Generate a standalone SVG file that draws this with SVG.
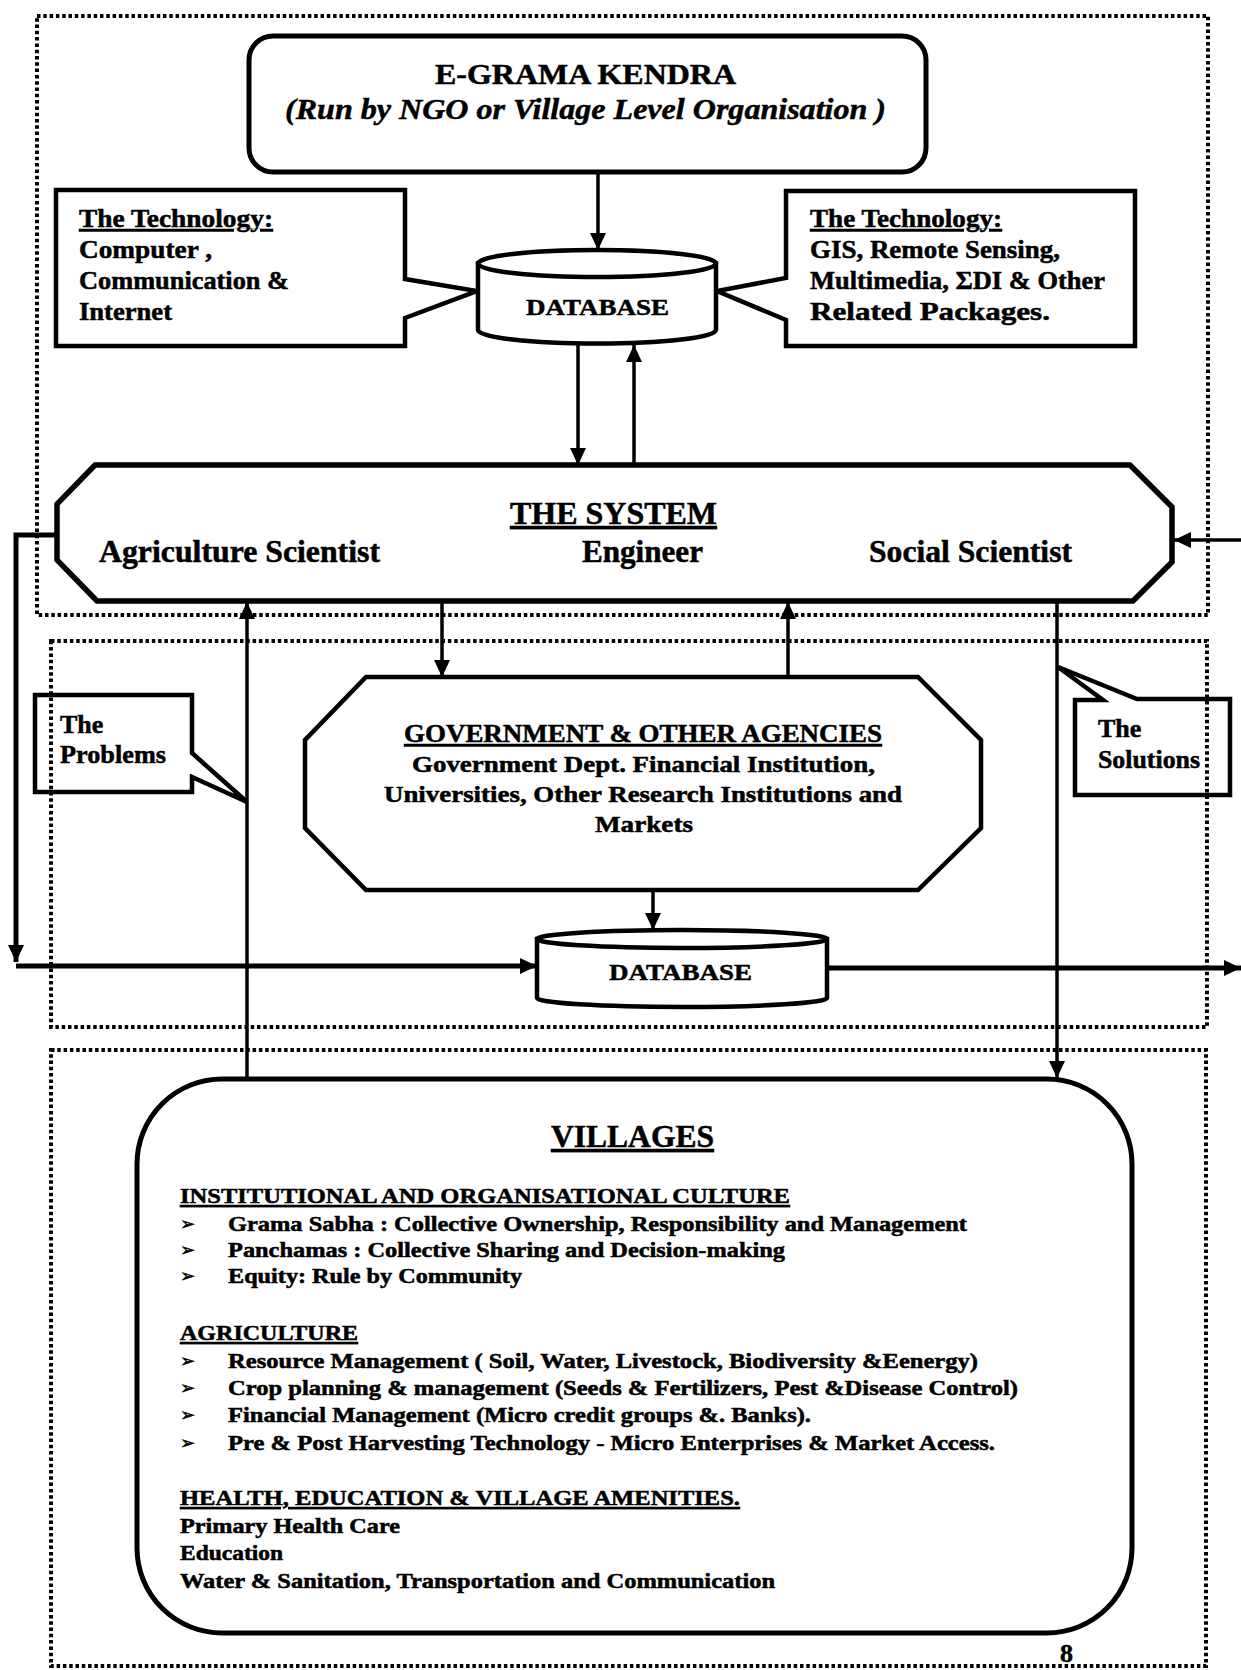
<svg xmlns="http://www.w3.org/2000/svg" width="1241" height="1670" viewBox="0 0 1241 1670">
<defs>
<style>
.bx{fill:#fff;stroke:#000;stroke-width:4.5;stroke-linejoin:miter}
.frame{fill:none;stroke:#000;stroke-width:4;stroke-dasharray:3.5 2.8}
.ln{fill:none;stroke:#000;stroke-width:3.5}
.thick{stroke-width:5}
text{font-family:"Liberation Serif","Times New Roman",serif;font-weight:bold;fill:#000;stroke:#000;stroke-width:0.5}
.it{font-style:italic}
.u{text-decoration:underline}
.bul{font-family:"DejaVu Sans",sans-serif;font-weight:normal;font-size:18px}
.f31{font-size:31px}
.f30{font-size:30px}
.f26{font-size:26px}
.f25{font-size:25px}
.f24{font-size:24px}
.f23{font-size:23px}
.f21{font-size:21px}
.f20{font-size:20px}
</style>
<marker id="ah" markerUnits="userSpaceOnUse" markerWidth="18" markerHeight="16" refX="17" refY="8" orient="auto">
<path d="M0,0 L17,8 L0,16 Z" fill="#000"/>
</marker>
</defs>
<rect width="1241" height="1670" fill="#fff"/>

<g id="egrama">
<rect class="bx" style="stroke-width:5" x="249" y="36" width="677" height="136" rx="24"/>
<text class="f30" x="435" y="84" textLength="301" lengthAdjust="spacingAndGlyphs">E-GRAMA KENDRA</text>
<text class="f30 it" x="285" y="119" textLength="601" lengthAdjust="spacingAndGlyphs">(Run by NGO or Village Level Organisation )</text>
</g>

<g id="tech-left">
<path class="bx" d="M56,190 H405 V279 L477,291 L405,318 V346 H56 Z"/>
<text class="f25 u" x="79" y="227" textLength="194" lengthAdjust="spacingAndGlyphs">The Technology:</text>
<text class="f25" x="79" y="258" textLength="133" lengthAdjust="spacingAndGlyphs">Computer ,</text>
<text class="f25" x="79" y="289" textLength="210" lengthAdjust="spacingAndGlyphs">Communication &amp;</text>
<text class="f25" x="79" y="320" textLength="93" lengthAdjust="spacingAndGlyphs">Internet</text>
</g>

<g id="tech-right">
<path class="bx" d="M786,191 H1135 V346 H786 V320 L717,291 L786,278 Z"/>
<text class="f25 u" x="810" y="227" textLength="192" lengthAdjust="spacingAndGlyphs">The Technology:</text>
<text class="f25" x="810" y="258" textLength="250" lengthAdjust="spacingAndGlyphs">GIS, Remote Sensing,</text>
<text class="f25" x="810" y="289" textLength="295" lengthAdjust="spacingAndGlyphs">Multimedia, ΣDI &amp; Other</text>
<text class="f25" x="810" y="320" textLength="240" lengthAdjust="spacingAndGlyphs">Related Packages.</text>
</g>

<g id="database-top">
<path class="bx" d="M478,263.5 V330 A119,13.5 0 0 0 716,330 V263.5 Z"/>
<ellipse class="bx" cx="597" cy="263.5" rx="119" ry="13.5"/>
<text class="f24" x="526" y="315" textLength="143" lengthAdjust="spacingAndGlyphs">DATABASE</text>
</g>

<g id="system">
<polygon class="bx" style="stroke-width:5.5" points="95,465 1130,465 1172,507 1172,562 1133,601 97,601 57,560 57,504"/>
<text class="f31 u" x="510" y="524" textLength="207" lengthAdjust="spacingAndGlyphs">THE SYSTEM</text>
<text class="f31" x="99" y="562" textLength="281" lengthAdjust="spacingAndGlyphs">Agriculture Scientist</text>
<text class="f31" x="582" y="562" textLength="121" lengthAdjust="spacingAndGlyphs">Engineer</text>
<text class="f31" x="869" y="562" textLength="203" lengthAdjust="spacingAndGlyphs">Social Scientist</text>
</g>

<g id="government">
<polygon class="bx" points="366,677 918,677 981,740 981,828 918,890 366,890 305,828 305,740"/>
<text class="f25 u" x="404" y="742" textLength="478" lengthAdjust="spacingAndGlyphs">GOVERNMENT &amp; OTHER AGENCIES</text>
<text class="f23" x="412" y="772" textLength="463" lengthAdjust="spacingAndGlyphs">Government Dept. Financial Institution,</text>
<text class="f23" x="384" y="802" textLength="518" lengthAdjust="spacingAndGlyphs">Universities, Other Research Institutions and</text>
<text class="f23" x="595" y="832" textLength="98" lengthAdjust="spacingAndGlyphs">Markets</text>
</g>

<g id="database-bottom">
<path class="bx" d="M537,939 V998 A145,9 0 0 0 827,998 V939 Z"/>
<ellipse class="bx" cx="682" cy="939" rx="145" ry="9"/>
<text class="f24" x="609" y="980" textLength="143" lengthAdjust="spacingAndGlyphs">DATABASE</text>
</g>

<g id="problems">
<path class="bx" d="M35,695 H192 V753 L247,802 L192,777 V792 H35 Z"/>
<text class="f26" x="60" y="733">The</text>
<text class="f26" x="60" y="763" textLength="106" lengthAdjust="spacingAndGlyphs">Problems</text>
</g>

<g id="solutions">
<path class="bx" d="M1075,700 H1103 L1058,667 L1137,699 H1230 V795 H1075 Z"/>
<text class="f26" x="1098" y="737">The</text>
<text class="f26" x="1098" y="768" textLength="102" lengthAdjust="spacingAndGlyphs">Solutions</text>
</g>

<g id="villages">
<rect class="bx" style="stroke-width:5" x="137" y="1079" width="995" height="554" rx="85"/>
<text class="f31 u" x="551" y="1147" textLength="163" lengthAdjust="spacingAndGlyphs">VILLAGES</text>
<text class="f21 u" x="180" y="1203" textLength="610" lengthAdjust="spacingAndGlyphs">INSTITUTIONAL AND ORGANISATIONAL CULTURE</text>
<text class="bul" x="180" y="1230">➢</text>
<text class="f20" x="228" y="1231" textLength="739" lengthAdjust="spacingAndGlyphs">Grama Sabha : Collective Ownership, Responsibility and Management</text>
<text class="bul" x="180" y="1256">➢</text>
<text class="f20" x="228" y="1257" textLength="557" lengthAdjust="spacingAndGlyphs">Panchamas : Collective Sharing and Decision-making</text>
<text class="bul" x="180" y="1282">➢</text>
<text class="f20" x="228" y="1283" textLength="294" lengthAdjust="spacingAndGlyphs">Equity: Rule by Community</text>
<text class="f21 u" x="180" y="1340" textLength="178" lengthAdjust="spacingAndGlyphs">AGRICULTURE</text>
<text class="bul" x="180" y="1367">➢</text>
<text class="f20" x="228" y="1368" textLength="750" lengthAdjust="spacingAndGlyphs">Resource Management ( Soil, Water, Livestock, Biodiversity &amp;Eenergy)</text>
<text class="bul" x="180" y="1394">➢</text>
<text class="f20" x="228" y="1395" textLength="790" lengthAdjust="spacingAndGlyphs">Crop planning &amp; management (Seeds &amp; Fertilizers, Pest &amp;Disease Control)</text>
<text class="bul" x="180" y="1421">➢</text>
<text class="f20" x="228" y="1422" textLength="583" lengthAdjust="spacingAndGlyphs">Financial Management (Micro credit groups &amp;. Banks).</text>
<text class="bul" x="180" y="1449">➢</text>
<text class="f20" x="228" y="1450" textLength="767" lengthAdjust="spacingAndGlyphs">Pre &amp; Post Harvesting Technology - Micro Enterprises &amp; Market Access.</text>
<text class="f21 u" x="180" y="1505" textLength="560" lengthAdjust="spacingAndGlyphs">HEALTH, EDUCATION &amp; VILLAGE AMENITIES.</text>
<text class="f20" x="180" y="1533" textLength="220" lengthAdjust="spacingAndGlyphs">Primary Health Care</text>
<text class="f20" x="180" y="1560" textLength="103" lengthAdjust="spacingAndGlyphs">Education</text>
<text class="f20" x="180" y="1588" textLength="595" lengthAdjust="spacingAndGlyphs">Water &amp; Sanitation, Transportation and Communication</text>
</g>

<g id="page-number">
<text class="f26" x="1060" y="1662">8</text>
</g>

<g id="connectors">
<line class="ln" x1="598" y1="172" x2="598" y2="250" marker-end="url(#ah)"/>
<line class="ln" x1="578" y1="344" x2="578" y2="465" marker-end="url(#ah)"/>
<line class="ln" x1="634" y1="465" x2="634" y2="345" marker-end="url(#ah)"/>
<line class="ln" x1="442" y1="602" x2="442" y2="677" marker-end="url(#ah)"/>
<line class="ln" x1="788" y1="677" x2="788" y2="602" marker-end="url(#ah)"/>
<line class="ln" x1="653" y1="890" x2="653" y2="930" marker-end="url(#ah)"/>
<polyline class="ln thick" points="57,535 16,535 16,962" marker-end="url(#ah)"/>
<line class="ln thick" x1="16" y1="966" x2="537" y2="966" marker-end="url(#ah)"/>
<line class="ln thick" x1="827" y1="968" x2="1241" y2="968" marker-end="url(#ah)"/>
<line class="ln" x1="1241" y1="540" x2="1174" y2="540" marker-end="url(#ah)"/>
<line class="ln" x1="247" y1="1079" x2="247" y2="602" marker-end="url(#ah)"/>
<line class="ln" x1="1057" y1="602" x2="1057" y2="1078" marker-end="url(#ah)"/>
</g>

<g id="frames">
<rect class="frame" x="37" y="16" width="1171" height="599"/>
<rect class="frame" x="51" y="641" width="1156" height="386"/>
<rect class="frame" x="51" y="1050" width="1155" height="616"/>
</g>
</svg>
